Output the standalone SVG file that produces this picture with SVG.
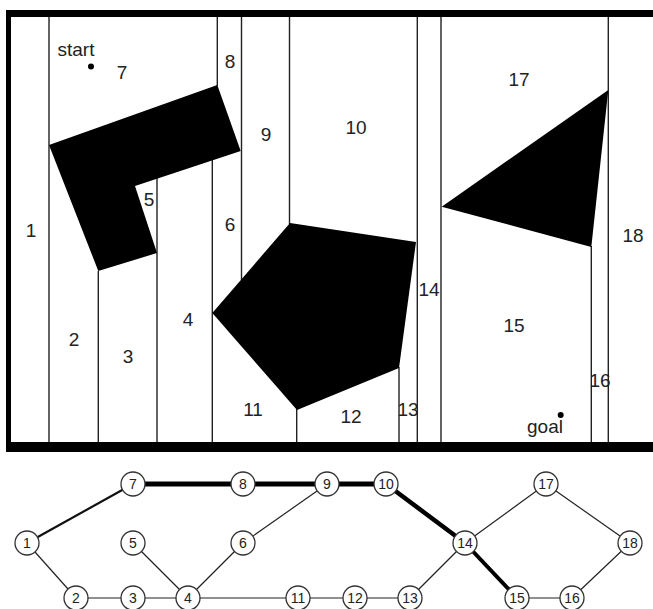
<svg xmlns="http://www.w3.org/2000/svg" width="653" height="609" viewBox="0 0 653 609">
<style>
.cell{stroke:#222;stroke-width:1.4;fill:none}
.obs{fill:#000;stroke:none}
.lbl{font-family:"Liberation Sans",Arial,sans-serif;font-size:19px;fill:#222;text-anchor:middle}
.e{stroke:#222;stroke-width:1.2;fill:none}
.em{stroke:#111;stroke-width:2.2;fill:none}
.et{stroke:#000;stroke-width:5;fill:none}
.n circle{fill:#fff;stroke:#333;stroke-width:1.3}
.n text{font-family:"Liberation Sans",Arial,sans-serif;font-size:14px;fill:#222;text-anchor:middle}
</style>
<rect width="653" height="609" fill="#fff"/>
<g id="workspace">
<rect x="6" y="10" width="647" height="7" fill="#000"/>
<rect x="6" y="10" width="5" height="442" fill="#000"/>
<rect x="6" y="442" width="647" height="10" fill="#000"/>
<g id="cells">
<line class="cell" x1="49" y1="17" x2="49" y2="442"/>
<line class="cell" x1="98.3" y1="271" x2="98.3" y2="442"/>
<line class="cell" x1="157" y1="178" x2="157" y2="442"/>
<line class="cell" x1="212.3" y1="160" x2="212.3" y2="442"/>
<line class="cell" x1="217.3" y1="17" x2="217.3" y2="86"/>
<line class="cell" x1="241.5" y1="17" x2="241.5" y2="280"/>
<line class="cell" x1="289.5" y1="17" x2="289.5" y2="224"/>
<line class="cell" x1="296.7" y1="409" x2="296.7" y2="442"/>
<line class="cell" x1="399" y1="367" x2="399" y2="442"/>
<line class="cell" x1="417.3" y1="17" x2="417.3" y2="442"/>
<line class="cell" x1="441" y1="17" x2="441" y2="442"/>
<line class="cell" x1="591.3" y1="246" x2="591.3" y2="442"/>
<line class="cell" x1="608.3" y1="17" x2="608.3" y2="442"/>
</g>
<g id="obstacles">
<polygon class="obs" points="49,145 217.3,85 240.7,151 135,186 157,253 98.3,271"/>
<polygon class="obs" points="290,223 416,242 399,368 297,410 212.3,313"/>
<polygon class="obs" points="441.7,206.7 608.3,90 591.3,247"/>
</g>
<circle cx="91" cy="66.5" r="3" fill="#000"/>
<circle cx="560.7" cy="415" r="3" fill="#000"/>
<g id="labels">
<text class="lbl" x="76" y="56">start</text>
<text class="lbl" x="122" y="79">7</text>
<text class="lbl" x="230" y="68">8</text>
<text class="lbl" x="149" y="206">5</text>
<text class="lbl" x="266" y="141">9</text>
<text class="lbl" x="356" y="134">10</text>
<text class="lbl" x="519" y="86">17</text>
<text class="lbl" x="31" y="237">1</text>
<text class="lbl" x="230" y="231">6</text>
<text class="lbl" x="74" y="346">2</text>
<text class="lbl" x="128" y="363">3</text>
<text class="lbl" x="188" y="326">4</text>
<text class="lbl" x="253" y="416">11</text>
<text class="lbl" x="351" y="423">12</text>
<text class="lbl" x="408" y="416">13</text>
<text class="lbl" x="429" y="296">14</text>
<text class="lbl" x="633" y="242">18</text>
<text class="lbl" x="514" y="332">15</text>
<text class="lbl" x="600" y="387">16</text>
<text class="lbl" x="545" y="433">goal</text>
</g>
</g>
<g id="connectors">
<line class="em" x1="27" y1="543" x2="133" y2="484"/>
<line class="e" x1="27" y1="543" x2="76" y2="598"/>
<line class="e" x1="76" y1="598" x2="133" y2="598"/>
<line class="e" x1="133" y1="598" x2="188" y2="598"/>
<line class="e" x1="133" y1="543" x2="188" y2="598"/>
<line class="e" x1="188" y1="598" x2="243" y2="543"/>
<line class="e" x1="243" y1="543" x2="327" y2="484"/>
<line class="e" x1="188" y1="598" x2="298" y2="598"/>
<line class="e" x1="298" y1="598" x2="355" y2="598"/>
<line class="e" x1="355" y1="598" x2="410" y2="598"/>
<line class="e" x1="410" y1="598" x2="465" y2="543"/>
<line class="e" x1="465" y1="543" x2="546" y2="484"/>
<line class="e" x1="546" y1="484" x2="630" y2="543"/>
<line class="e" x1="630" y1="543" x2="572" y2="598"/>
<line class="e" x1="517" y1="598" x2="572" y2="598"/>
<line class="et" x1="133" y1="484" x2="243" y2="484"/>
<line class="et" x1="243" y1="484" x2="327" y2="484"/>
<line class="et" x1="327" y1="484" x2="386" y2="484"/>
<line class="et" x1="386" y1="484" x2="465" y2="543" style="stroke-width:4.5"/>
<line class="et" x1="465" y1="543" x2="517" y2="598" style="stroke-width:4"/>
</g>
<g id="node1" class="n"><circle cx="27" cy="543" r="12"/><text x="27" y="548">1</text></g>
<g id="node2" class="n"><circle cx="76" cy="598" r="12"/><text x="76" y="603">2</text></g>
<g id="node3" class="n"><circle cx="133" cy="598" r="12"/><text x="133" y="603">3</text></g>
<g id="node4" class="n"><circle cx="188" cy="598" r="12"/><text x="188" y="603">4</text></g>
<g id="node5" class="n"><circle cx="133" cy="543" r="12"/><text x="133" y="548">5</text></g>
<g id="node6" class="n"><circle cx="243" cy="543" r="12"/><text x="243" y="548">6</text></g>
<g id="node7" class="n"><circle cx="133" cy="484" r="12"/><text x="133" y="489">7</text></g>
<g id="node8" class="n"><circle cx="243" cy="484" r="12"/><text x="243" y="489">8</text></g>
<g id="node9" class="n"><circle cx="327" cy="484" r="12"/><text x="327" y="489">9</text></g>
<g id="node10" class="n"><circle cx="386" cy="484" r="12"/><text x="386" y="489">10</text></g>
<g id="node11" class="n"><circle cx="298" cy="598" r="12"/><text x="298" y="603">11</text></g>
<g id="node12" class="n"><circle cx="355" cy="598" r="12"/><text x="355" y="603">12</text></g>
<g id="node13" class="n"><circle cx="410" cy="598" r="12"/><text x="410" y="603">13</text></g>
<g id="node14" class="n"><circle cx="465" cy="543" r="12"/><text x="465" y="548">14</text></g>
<g id="node15" class="n"><circle cx="517" cy="598" r="12"/><text x="517" y="603">15</text></g>
<g id="node16" class="n"><circle cx="572" cy="598" r="12"/><text x="572" y="603">16</text></g>
<g id="node17" class="n"><circle cx="546" cy="484" r="12"/><text x="546" y="489">17</text></g>
<g id="node18" class="n"><circle cx="630" cy="543" r="12"/><text x="630" y="548">18</text></g>
</svg>
